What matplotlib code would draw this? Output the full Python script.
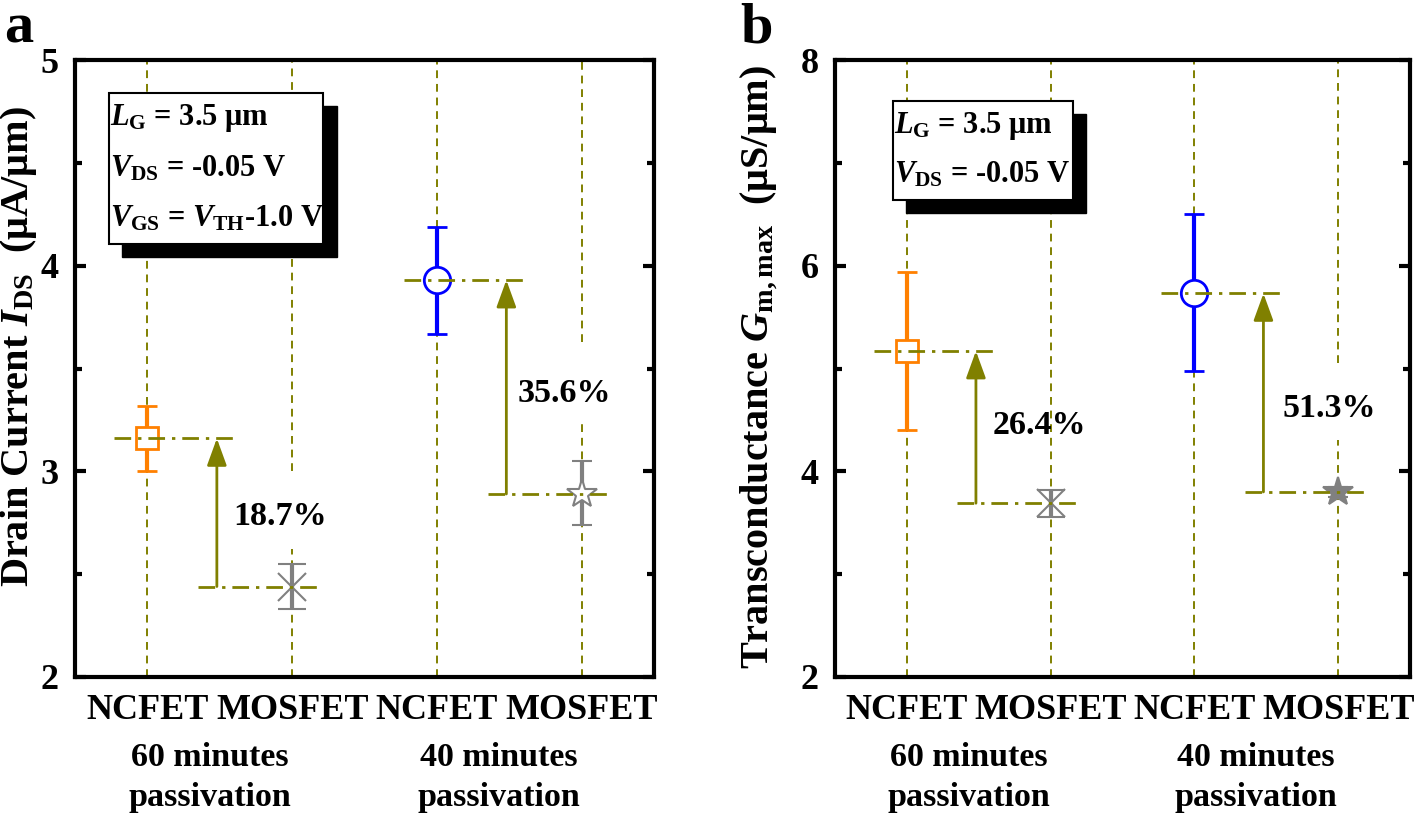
import numpy as np
import matplotlib.pyplot as plt
from matplotlib.patches import Rectangle
from matplotlib.ticker import MultipleLocator
import matplotlib.transforms as mtransforms

plt.rcParams['font.family'] = 'Liberation Serif'
plt.rcParams['font.weight'] = 'bold'
plt.rcParams['axes.labelweight'] = 'bold'
plt.rcParams['mathtext.fontset'] = 'custom'
plt.rcParams['mathtext.rm'] = 'Liberation Serif:bold'
plt.rcParams['mathtext.it'] = 'Liberation Serif:italic:bold'
plt.rcParams['mathtext.bf'] = 'Liberation Serif:bold'

# data
devices = ['NCFET', 'MOSFET', 'NCFET', 'MOSFET']
groups = ['60 minutes\npassivation', '40 minutes\npassivation']

ids = [3.16, 2.44, 3.93, 2.89]
ids_lo = [0.16, 0.11, 0.26, 0.15]
ids_hi = [0.16, 0.11, 0.26, 0.16]
ids_pct = ['18.7%', '35.6%']

gm = [5.17, 3.69, 5.73, 3.80]
gm_lo = [0.77, 0.13, 0.75, 0.05]
gm_hi = [0.77, 0.13, 0.77, 0.05]
gm_pct = ['26.4%', '51.3%']

orange = '#FF8000'
blue = '#0000FF'
gray = '#808080'
olive = '#808000'

styles = [dict(marker='s', ms=16, color=orange, mfc='white', mew=2),
          dict(marker='x', ms=20, color=gray, mew=1.5),
          dict(marker='o', ms=19, color=blue, mfc='white', mew=2),
          dict(marker='*', ms=22, color=gray, mfc='white', mew=1.5)]


def draw_panel(ax, vals, lo, hi, pct, pct_pos, gaps, ylim, ymaj, box_lines, box, ylabel, lab_xy, star_fill):
    x = np.arange(1, 5)
    ax.set_xlim(0.5, 4.5)
    ax.set_ylim(*ylim)

    # vertical guide lines, with gaps behind the percentage labels
    for i in range(4):
        g = gaps.get(i)
        if g is None:
            ax.plot([x[i], x[i]], ylim, ls=(0, (4, 3)), color=olive, lw=1.4, zorder=1)
        else:
            ax.plot([x[i], x[i]], [ylim[0], g[0]], ls=(0, (4, 3)), color=olive, lw=1.4, zorder=1)
            ax.plot([x[i], x[i]], [g[1], ylim[1]], ls=(0, (4, 3)), color=olive, lw=1.4, zorder=1)

    for i in range(4):
        st = dict(styles[i])
        if i == 3 and star_fill:
            st['mfc'] = gray
        cap = 10 if i == 1 else 7.5
        ax.errorbar(x[i], vals[i], yerr=[[lo[i]], [hi[i]]], elinewidth=3, capsize=cap,
                    capthick=3, ls='none', zorder=3, **st)

    for k in range(2):
        n, m = 2 * k, 2 * k + 1
        ax.plot([x[n] - 0.23, x[n] + 0.6], [vals[n], vals[n]], color=olive, lw=2,
                ls=(0, (6, 2.5, 1.2, 2.5)), zorder=4)
        ax.plot([x[m] - 0.65, x[m] + 0.18], [vals[m], vals[m]], color=olive, lw=2,
                ls=(0, (6, 2.5, 1.2, 2.5)), zorder=4)
        ax.annotate('', xy=(x[n] + 0.48, vals[n]), xytext=(x[n] + 0.48, vals[m]),
                    arrowprops=dict(arrowstyle='-|>,head_length=0.55,head_width=0.2',
                                    color=olive, lw=2, mutation_scale=30,
                                    shrinkA=0, shrinkB=0), zorder=4)
        ax.text(pct_pos[k][0], pct_pos[k][1], pct[k], fontsize=24.5, ha='center', va='center',
                fontweight='bold', zorder=5)

    # parameter box with shadow
    x0, y0, x1, y1 = box
    ax.add_patch(Rectangle((x0 + 0.023, y0 - 0.021), x1 - x0, y1 - y0, transform=ax.transAxes,
                           fc='black', ec='black', zorder=6))
    ax.add_patch(Rectangle((x0, y0), x1 - x0, y1 - y0, transform=ax.transAxes,
                           fc='white', ec='black', lw=1.5, zorder=7))
    step = (y1 - y0) / len(box_lines)
    for j, t in enumerate(box_lines):
        ax.text(x0 + 0.002, y1 - step * (j + 0.5), t, transform=ax.transAxes, fontsize=22,
                va='center', ha='left', zorder=8)

    ax.set_xticks(x)
    ax.set_xticklabels(devices, fontsize=26)
    ax.yaxis.set_major_locator(MultipleLocator(ymaj))
    ax.yaxis.set_minor_locator(MultipleLocator(ymaj / 2))
    ax.tick_params(axis='x', length=0, pad=12)
    ax.tick_params(axis='y', which='both', direction='in', right=True, width=3, labelsize=26, pad=12)
    ax.tick_params(axis='y', which='major', length=8)
    ax.tick_params(axis='y', which='minor', length=5)
    for sp in ax.spines.values():
        sp.set_linewidth(3)

    trans = mtransforms.blended_transform_factory(ax.transData, ax.transAxes)
    for k in range(2):
        ax.text(2 * k + 1.43, -0.105, groups[k], transform=trans, fontsize=24.5, ha='center',
                va='top', linespacing=1.38)

    ax.set_ylabel(ylabel, fontsize=29)
    ax.yaxis.set_label_coords(*lab_xy)


fig = plt.figure(figsize=(14.18, 8.21), dpi=100)
ax1 = fig.add_axes([0.0529, 0.1754, 0.4083, 0.7515])
ax2 = fig.add_axes([0.5889, 0.1754, 0.4055, 0.7515])

draw_panel(ax1, ids, ids_lo, ids_hi, ids_pct, [(1.92, 2.78), (3.88, 3.38)],
           {1: (2.62, 3.0), 3: (3.23, 3.63)}, (2, 5), 1,
           [r'$L_{\mathrm{G}}$ = 3.5 μm', r'$V_{\mathrm{DS}}$ = -0.05 V',
            r'$V_{\mathrm{GS}}$ = $V_{\mathrm{TH}}$-1.0 V'],
           (0.059, 0.702, 0.429, 0.946),
           r'Drain Current $I_{\mathrm{DS}}$  (μA/μm)', (-0.062, 0.535), False)

draw_panel(ax2, gm, gm_lo, gm_hi, gm_pct, [(1.92, 4.45), (3.94, 4.61)],
           {3: (4.30, 5.05)}, (2, 8), 2,
           [r'$L_{\mathrm{G}}$ = 3.5 μm', r'$V_{\mathrm{DS}}$ = -0.05 V'],
           (0.101, 0.773, 0.414, 0.934),
           r'Transconductance $G_{\mathrm{m,max}}$  (μS/μm)', (-0.095, 0.503), True)

fig.text(0.003, 0.997, 'a', fontsize=42, fontweight='bold', va='top', ha='left')
fig.text(0.522, 0.997, 'b', fontsize=42, fontweight='bold', va='top', ha='left')

fig.savefig('out.png', dpi=100)
